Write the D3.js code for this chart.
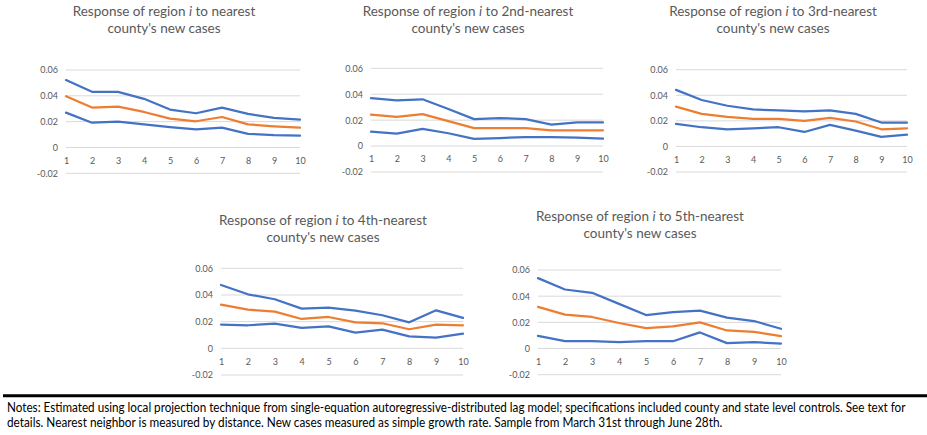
<!DOCTYPE html>
<html>
<head>
<meta charset="utf-8">
<script src="https://cdn.jsdelivr.net/npm/d3@7"></script>
<style>
  body { margin: 0; background: #fff; }
  text { font-family: Lato, 'Open Sans', sans-serif; }
</style>
</head>
<body>
<svg id="chart" width="927" height="435"></svg>
<script>
const lags = [1, 2, 3, 4, 5, 6, 7, 8, 9, 10]
const yTicks = [-0.02, 0, 0.02, 0.04, 0.06]

const neighbours = ['nearest', '2nd-nearest', '3rd-nearest', '4th-nearest', '5th-nearest']

const upper1 = [0.0522, 0.0431, 0.0431, 0.0377, 0.0294, 0.0265, 0.0309, 0.026, 0.0229, 0.0216]
const mid1   = [0.0397, 0.0309, 0.0317, 0.0275, 0.0223, 0.0203, 0.0236, 0.0179, 0.0164, 0.0153]
const lower1 = [0.027, 0.0192, 0.02, 0.0179, 0.0158, 0.014, 0.0153, 0.0106, 0.0096, 0.0091]

const upper2 = [0.0369, 0.0353, 0.0361, 0.0286, 0.0208, 0.0216, 0.0208, 0.0166, 0.0182, 0.0182]
const mid2   = [0.0242, 0.0226, 0.0247, 0.0192, 0.0138, 0.0138, 0.0138, 0.0122, 0.0122, 0.0122]
const lower2 = [0.0112, 0.0096, 0.0132, 0.0099, 0.0055, 0.0062, 0.007, 0.007, 0.0065, 0.0057]

const upper3 = [0.0442, 0.0363, 0.0318, 0.0289, 0.0282, 0.0274, 0.0282, 0.0255, 0.0187, 0.0187]
const mid3   = [0.0311, 0.0255, 0.0232, 0.0216, 0.0216, 0.02, 0.0224, 0.0195, 0.0134, 0.0142]
const lower3 = [0.0176, 0.015, 0.0134, 0.0142, 0.015, 0.0113, 0.0168, 0.0124, 0.0074, 0.0092]

const upper4 = [0.0475, 0.0405, 0.0368, 0.0298, 0.0305, 0.0283, 0.0248, 0.0195, 0.0285, 0.0228]
const mid4   = [0.0328, 0.029, 0.0275, 0.022, 0.0235, 0.0195, 0.0188, 0.0143, 0.0178, 0.0173]
const lower4 = [0.0178, 0.0173, 0.0185, 0.0153, 0.0165, 0.0118, 0.014, 0.009, 0.008, 0.011]

const upper5 = [0.0538, 0.0451, 0.0426, 0.0341, 0.0256, 0.0279, 0.029, 0.0236, 0.021, 0.0151]
const mid5   = [0.0318, 0.0259, 0.0241, 0.0195, 0.0156, 0.0169, 0.02, 0.0138, 0.0128, 0.0095]
const lower5 = [0.0097, 0.0056, 0.0056, 0.0049, 0.0056, 0.0056, 0.0123, 0.0041, 0.0049, 0.0038]

const noteLines = [
  'Notes: Estimated using local projection technique from single-equation autoregressive-distributed lag model; specifications included county and state level controls. See text for',
  'details. Nearest neighbor is measured by distance. New cases measured as simple growth rate. Sample from March 31st through June 28th.'
]

const series = [
  [upper1, mid1, lower1],
  [upper2, mid2, lower2],
  [upper3, mid3, lower3],
  [upper4, mid4, lower4],
  [upper5, mid5, lower5]
]

// panel layout: plot box and title position
const panels = [
  { x0: 66, x1: 300, yTop: 70, yBot: 173.3, tx: 164, ty: 16 },
  { x0: 371, x1: 603, yTop: 68.3, yBot: 172, tx: 468, ty: 16 },
  { x0: 676, x1: 907, yTop: 69.7, yBot: 172, tx: 773, ty: 16 },
  { x0: 221, x1: 463, yTop: 268.3, yBot: 375, tx: 323, ty: 225 },
  { x0: 538, x1: 781, yTop: 270, yBot: 374.7, tx: 640, ty: 221 }
]

const blue = '#4472C4'
const orange = '#ED7D31'
const grey = '#595959'

const svg = d3.select('#chart')

// excel style labels: plain hyphen for negatives
const fmtTick = d => d === 0 ? '0' : d.toFixed(2)

panels.forEach((p, i) => {
  const g = svg.append('g')

  const xscale = d3.scalePoint()
    .domain(lags)
    .range([p.x0, p.x1])

  const yscale = d3.scaleLinear()
    .domain([-0.02, 0.06])
    .range([p.yBot, p.yTop])

  // gridlines
  g.append('g')
    .selectAll('line')
    .data(yTicks)
    .enter()
    .append('line')
    .attr('x1', p.x0)
    .attr('x2', p.x1)
    .attr('y1', d => yscale(d))
    .attr('y2', d => yscale(d))
    .attr('stroke', '#d9d9d9')
    .attr('stroke-width', 1)

  // y labels
  const yAxis = d3.axisLeft(yscale)
    .tickValues(yTicks)
    .tickFormat(fmtTick)
    .tickSize(0)
    .tickPadding(8)
  const ya = g.append('g')
    .attr('transform', `translate(${p.x0}, 0)`)
    .call(yAxis)
  ya.select('.domain').remove()
  ya.selectAll('text')
    .attr('fill', grey)
    .style('font-size', '9px')

  // x labels sit at the zero line
  const xAxis = d3.axisBottom(xscale)
    .tickSize(0)
    .tickPadding(10)
  const xa = g.append('g')
    .attr('transform', `translate(0, ${yscale(0)})`)
    .call(xAxis)
  xa.select('.domain').remove()
  xa.selectAll('text')
    .attr('fill', grey)
    .style('font-size', '9px')

  const line = d3.line()
    .x((d, k) => xscale(lags[k]))
    .y(d => yscale(d))

  const [up, mid, low] = series[i]
  ;[[up, blue], [low, blue], [mid, orange]].forEach(([vals, col]) => {
    g.append('path')
      .datum(vals)
      .attr('d', line)
      .attr('fill', 'none')
      .attr('stroke', col)
      .attr('stroke-width', 2.25)
      .attr('stroke-linejoin', 'round')
      .attr('stroke-linecap', 'round')
  })

  // title
  const t1 = g.append('text')
    .attr('x', p.tx)
    .attr('y', p.ty)
    .attr('text-anchor', 'middle')
    .attr('fill', grey)
    .style('font-size', '13.5px')
  t1.append('tspan').text('Response of region ')
  t1.append('tspan').style('font-style', 'italic').text('i')
  t1.append('tspan').text(' to ' + neighbours[i])

  g.append('text')
    .attr('x', p.tx)
    .attr('y', p.ty + 17)
    .attr('text-anchor', 'middle')
    .attr('fill', grey)
    .style('font-size', '13.5px')
    .text("county's new cases")
})

// notes
svg.append('line')
  .attr('x1', 3)
  .attr('x2', 927)
  .attr('y1', 395.8)
  .attr('y2', 395.8)
  .attr('stroke', '#000')
  .attr('stroke-width', 3)

// the note font is narrower than Lato, so squeeze each line to its width
const noteWidths = [899, 716]
svg.append('g')
  .selectAll('text')
  .data(noteLines)
  .enter()
  .append('text')
  .attr('x', 0)
  .attr('y', 0)
  .attr('fill', '#000')
  .style('font-size', '12.5px')
  .text(d => d)
  .each(function (d, k) {
    const sx = noteWidths[k] / this.getComputedTextLength()
    d3.select(this).attr('transform', `translate(7, ${412.3 + k * 15}) scale(${sx}, 1)`)
  })
</script>
</body>
</html>
